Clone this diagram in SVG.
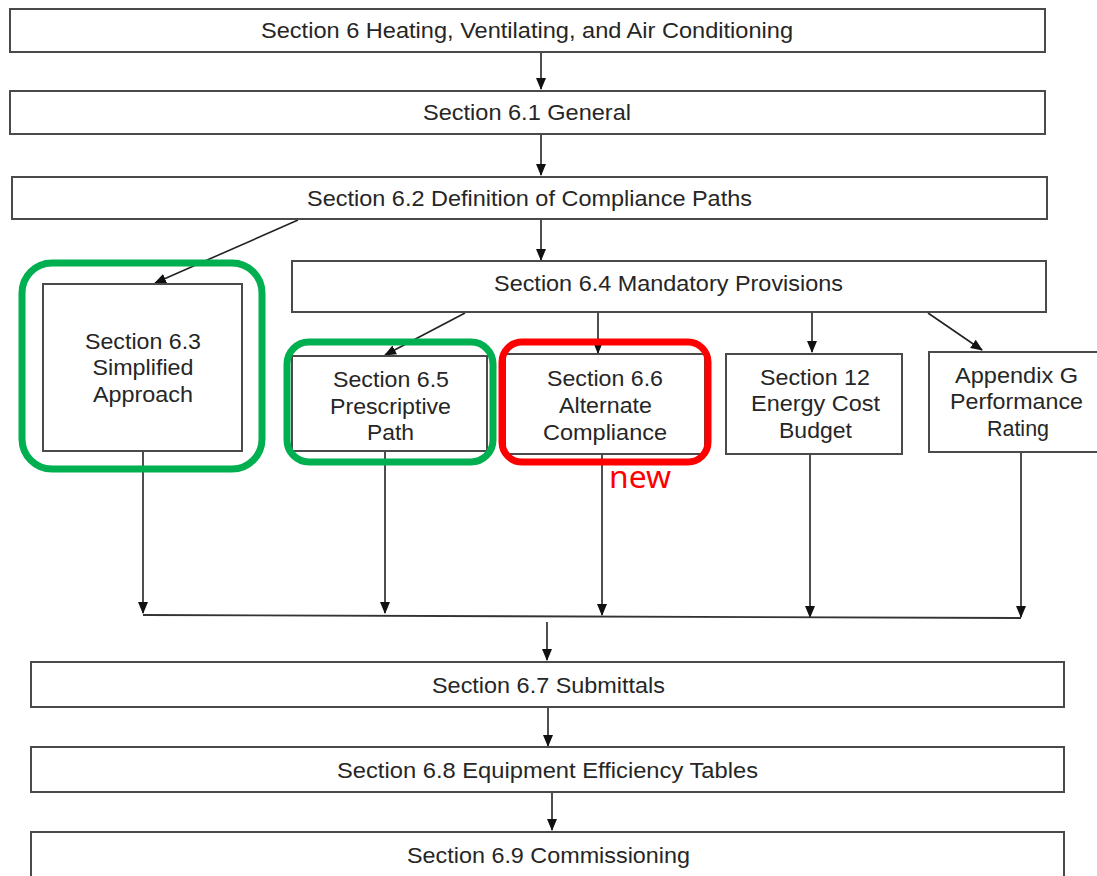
<svg xmlns="http://www.w3.org/2000/svg" width="1097" height="876" viewBox="0 0 1097 876">
<defs>
<marker id="arr" markerWidth="12" markerHeight="12" refX="11" refY="6" orient="auto" markerUnits="userSpaceOnUse">
<path d="M0,1 L12,6 L0,11 Z" fill="#111"/>
</marker>
<style>
.box{fill:#fff;stroke:#4a4a4a;stroke-width:2}
.t{font-family:"Liberation Sans",Arial,sans-serif;font-size:22.5px;fill:#262626;text-anchor:middle}
.c{stroke:#333;stroke-width:1.8;fill:none}
.ca{stroke:#222;stroke-width:1.6;fill:none;marker-end:url(#arr)}
.hl-g{fill:none;stroke:#00B050;stroke-width:7}
.hl-r{fill:none;stroke:#FF0000;stroke-width:7}
</style>
</defs>
<rect width="1097" height="876" fill="#fff"/>

<g id="connectors">
<line class="ca" x1="541" y1="52" x2="541" y2="89"/>
<line class="ca" x1="541" y1="135" x2="541" y2="175"/>
<line class="ca" x1="298" y1="220" x2="155" y2="283"/>
<line class="ca" x1="541" y1="220" x2="541" y2="260"/>
<line class="ca" x1="465" y1="313" x2="385" y2="355"/>
<line class="ca" x1="598" y1="313" x2="598" y2="353"/>
<line class="ca" x1="812" y1="313" x2="812" y2="352"/>
<line class="ca" x1="928" y1="313" x2="982" y2="350"/>
<line class="ca" x1="143" y1="451" x2="143" y2="613"/>
<line class="ca" x1="385" y1="451" x2="385" y2="613"/>
<line class="ca" x1="602" y1="455" x2="602" y2="615"/>
<line class="ca" x1="810" y1="454" x2="810" y2="617"/>
<line class="ca" x1="1021" y1="452" x2="1021" y2="617"/>
<line class="c" x1="143" y1="615" x2="1021" y2="618"/>
<line class="ca" x1="547" y1="622" x2="547" y2="660"/>
<line class="ca" x1="548" y1="708" x2="548" y2="746"/>
<line class="ca" x1="552" y1="793" x2="552" y2="830"/>
</g>

<g id="n-6">
<rect class="box" x="10" y="9" width="1035" height="43"/>
<text class="t" x="527" y="38" textLength="532" lengthAdjust="spacingAndGlyphs">Section 6 Heating, Ventilating, and Air Conditioning</text>
</g>
<g id="n-6-1">
<rect class="box" x="10" y="91" width="1035" height="43"/>
<text class="t" x="527" y="120" textLength="208" lengthAdjust="spacingAndGlyphs">Section 6.1 General</text>
</g>
<g id="n-6-2">
<rect class="box" x="12" y="177" width="1035" height="42"/>
<text class="t" x="529.5" y="206" textLength="445" lengthAdjust="spacingAndGlyphs">Section 6.2 Definition of Compliance Paths</text>
</g>
<g id="n-6-4">
<rect class="box" x="292" y="261" width="754" height="51"/>
<text class="t" x="668.5" y="291" textLength="349" lengthAdjust="spacingAndGlyphs">Section 6.4 Mandatory Provisions</text>
</g>
<g id="n-6-3">
<rect class="box" x="43" y="284" width="199" height="167"/>
<text class="t" x="143" y="349" textLength="116" lengthAdjust="spacingAndGlyphs">Section 6.3</text>
<text class="t" x="143" y="375" textLength="101" lengthAdjust="spacingAndGlyphs">Simplified</text>
<text class="t" x="143" y="402" textLength="100" lengthAdjust="spacingAndGlyphs">Approach</text>
<rect class="hl-g" x="22" y="263" width="240" height="206" rx="30"/>
</g>
<g id="n-6-5">
<rect class="box" x="292" y="356" width="195" height="95"/>
<text class="t" x="391" y="387" textLength="116" lengthAdjust="spacingAndGlyphs">Section 6.5</text>
<text class="t" x="390.5" y="414" textLength="121" lengthAdjust="spacingAndGlyphs">Prescriptive</text>
<text class="t" x="390.5" y="440" textLength="47" lengthAdjust="spacingAndGlyphs">Path</text>
<rect class="hl-g" x="287" y="342" width="206" height="120" rx="22"/>
</g>
<g id="n-6-6">
<rect class="box" x="505" y="354" width="200" height="100"/>
<text class="t" x="605" y="386" textLength="116" lengthAdjust="spacingAndGlyphs">Section 6.6</text>
<text class="t" x="605.5" y="413" textLength="93" lengthAdjust="spacingAndGlyphs">Alternate</text>
<text class="t" x="605" y="440" textLength="124" lengthAdjust="spacingAndGlyphs">Compliance</text>
<rect class="hl-r" x="502" y="342" width="206" height="120" rx="20"/>
<text x="609" y="488" font-family="'Noto Sans','Open Sans',sans-serif" font-size="30" fill="#FF0000" textLength="62" lengthAdjust="spacingAndGlyphs">new</text>
</g>
<g id="n-12">
<rect class="box" x="726" y="354" width="176" height="100"/>
<text class="t" x="815" y="385" textLength="110" lengthAdjust="spacingAndGlyphs">Section 12</text>
<text class="t" x="815.5" y="411" textLength="129" lengthAdjust="spacingAndGlyphs">Energy Cost</text>
<text class="t" x="815.5" y="438" textLength="73" lengthAdjust="spacingAndGlyphs">Budget</text>
</g>
<g id="n-appg">
<rect class="box" x="929" y="352" width="175" height="100"/>
<text class="t" x="1016.5" y="383" textLength="123" lengthAdjust="spacingAndGlyphs">Appendix G</text>
<text class="t" x="1016.5" y="409" textLength="133" lengthAdjust="spacingAndGlyphs">Performance</text>
<text class="t" x="1018" y="436" textLength="62" lengthAdjust="spacingAndGlyphs">Rating</text>
</g>
<g id="n-6-7">
<rect class="box" x="31" y="662" width="1033" height="45"/>
<text class="t" x="548.5" y="693" textLength="233" lengthAdjust="spacingAndGlyphs">Section 6.7 Submittals</text>
</g>
<g id="n-6-8">
<rect class="box" x="31" y="747" width="1033" height="45"/>
<text class="t" x="547.5" y="778" textLength="421" lengthAdjust="spacingAndGlyphs">Section 6.8 Equipment Efficiency Tables</text>
</g>
<g id="n-6-9">
<rect class="box" x="31" y="832" width="1033" height="50"/>
<text class="t" x="548.5" y="863" textLength="283" lengthAdjust="spacingAndGlyphs">Section 6.9 Commissioning</text>
</g>
</svg>
